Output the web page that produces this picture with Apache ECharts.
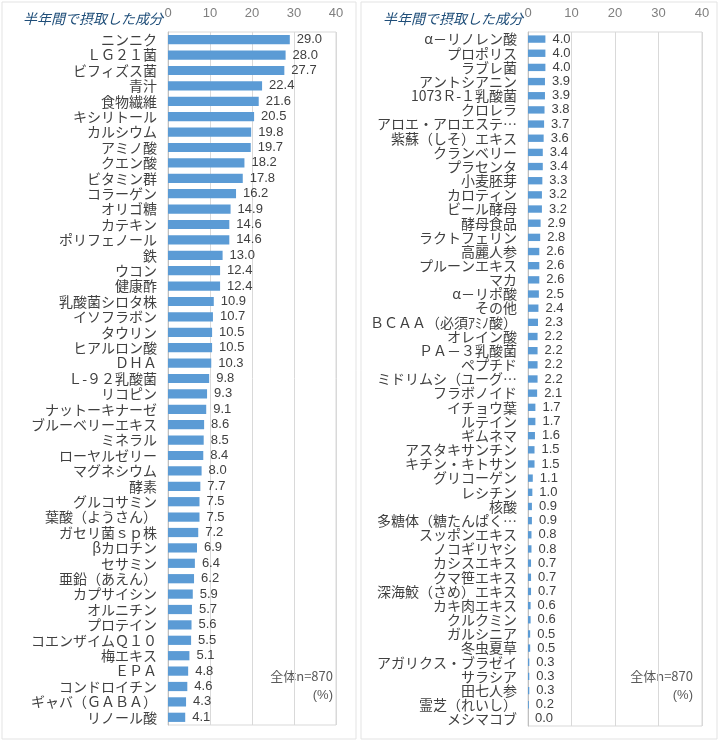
<!DOCTYPE html>
<html>
<head>
<meta charset="utf-8">
<script src="https://cdn.jsdelivr.net/npm/echarts@6/dist/echarts.min.js"></script>
<style>html,body{margin:0;padding:0;background:#fff;}#c{width:720px;height:742px;}</style>
</head>
<body>
<div id="c"></div>
<script>
const leftCategories = ['ニンニク','ＬＧ２１菌','ビフィズス菌','青汁','食物繊維','キシリトール','カルシウム','アミノ酸','クエン酸','ビタミン群','コラーゲン','オリゴ糖','カテキン','ポリフェノール','鉄','ウコン','健康酢','乳酸菌シロタ株','イソフラボン','タウリン','ヒアルロン酸','ＤＨＡ','Ｌ-９２乳酸菌','リコピン','ナットーキナーゼ','ブルーベリーエキス','ミネラル','ローヤルゼリー','マグネシウム','酵素','グルコサミン','葉酸（ようさん）','ガセリ菌ｓｐ株','βカロチン','セサミン','亜鉛（あえん）','カプサイシン','オルニチン','プロテイン','コエンザイムＱ１０','梅エキス','ＥＰＡ','コンドロイチン','ギャバ（ＧＡＢＡ）','リノール酸'];
const leftValues = [29.0,28.0,27.7,22.4,21.6,20.5,19.8,19.7,18.2,17.8,16.2,14.9,14.6,14.6,13.0,12.4,12.4,10.9,10.7,10.5,10.5,10.3,9.8,9.3,9.1,8.6,8.5,8.4,8.0,7.7,7.5,7.5,7.2,6.9,6.4,6.2,5.9,5.7,5.6,5.5,5.1,4.8,4.6,4.3,4.1];
const rightCategories = ['α－リノレン酸','プロポリス','ラブレ菌','アントシアニン','1073Ｒ-１乳酸菌','クロレラ','アロエ・アロエステ…','紫蘇（しそ）エキス','クランベリー','プラセンタ','小麦胚芽','カロティン','ビール酵母','酵母食品','ラクトフェリン','高麗人参','プルーンエキス','マカ','α－リポ酸','その他','ＢＣＡＡ（必須ｱﾐﾉ酸）','オレイン酸','ＰＡ－３乳酸菌','ペプチド','ミドリムシ（ユーグ…','フラボノイド','イチョウ葉','ルテイン','ギムネマ','アスタキサンチン','キチン・キトサン','グリコーゲン','レシチン','核酸','多糖体（糖たんぱく…','スッポンエキス','ノコギリヤシ','カシスエキス','クマ笹エキス','深海鮫（さめ）エキス','カキ肉エキス','クルクミン','ガルシニア','冬虫夏草','アガリクス・ブラゼイ','サラシア','田七人参','霊芝（れいし）','メシマコブ'];
const rightValues = [4.0,4.0,4.0,3.9,3.9,3.8,3.7,3.6,3.4,3.4,3.3,3.2,3.2,2.9,2.8,2.6,2.6,2.6,2.5,2.4,2.3,2.2,2.2,2.2,2.2,2.1,1.7,1.7,1.6,1.5,1.5,1.1,1.0,0.9,0.9,0.8,0.8,0.7,0.7,0.7,0.6,0.6,0.5,0.5,0.3,0.3,0.3,0.2,0.0];
const xTicks = [0,10,20,30,40];
const titleText = '半年間で摂取した成分';
const noteText = '全体n=870';
const unitText = '(%)';

const chart = echarts.init(document.getElementById('c'));
const cjk = '"Noto Sans CJK JP", "Noto Sans", sans-serif';
const lat = '"Liberation Sans", Arial, sans-serif';

function xAxisOf(i){
  return {
    gridIndex:i, type:'value', position:'top', min:xTicks[0], max:xTicks[xTicks.length-1], interval:10,
    axisLine:{show:false}, axisTick:{show:false},
    axisLabel:{color:'#7f7f7f', fontSize:13, fontFamily:lat, margin:12},
    splitLine:{show:true, lineStyle:{color:'#d9d9d9', width:1}}
  };
}
function yAxisOf(i, cats){
  return {
    gridIndex:i, type:'category', data:cats, inverse:true,
    axisLine:{show:true, lineStyle:{color:'#bfbfbf'}}, axisTick:{show:false},
    axisLabel:{color:'#404040', fontSize:14, fontFamily:cjk, margin:11, interval:0}
  };
}
function seriesOf(i, vals, gap){
  return {
    type:'bar', xAxisIndex:i, yAxisIndex:i, data:vals, barCategoryGap:gap,
    itemStyle:{color:'#5B9BD5'},
    label:{show:true, position:'right', distance:7, color:'#404040', fontSize:13, fontFamily:lat,
      formatter:p=>Number(p.value).toFixed(1)},
    silent:true, animation:false
  };
}

chart.setOption({
  animation:false,
  backgroundColor:'#fff',
  title:[
    {text:titleText, left:18, top:7, textStyle:{fontSize:14, fontStyle:'italic', fontWeight:'normal', color:'#1F4E79', fontFamily:cjk}},
    {text:titleText, left:378, top:7, textStyle:{fontSize:14, fontStyle:'italic', fontWeight:'normal', color:'#1F4E79', fontFamily:cjk}}
  ],
  grid:[
    {left:168, top:32, width:168, height:693, show:true, borderColor:'#d9d9d9', borderWidth:1, backgroundColor:'transparent'},
    {left:528, top:32, width:174, height:694, show:true, borderColor:'#d9d9d9', borderWidth:1, backgroundColor:'transparent'}
  ],
  xAxis:[xAxisOf(0), xAxisOf(1)],
  yAxis:[yAxisOf(0, leftCategories), yAxisOf(1, rightCategories)],
  series:[seriesOf(0, leftValues, '40%'), seriesOf(1, rightValues, '48%')],
  graphic:[
    {type:'rect', shape:{x:2, y:2, width:354, height:737}, style:{fill:'none', stroke:'#e3e3e3', lineWidth:1}, silent:true, z:-1},
    {type:'rect', shape:{x:361, y:2, width:356, height:737}, style:{fill:'none', stroke:'#e3e3e3', lineWidth:1}, silent:true, z:-1},
    {type:'text', right:720-333, top:670, style:{text:noteText, fill:'#595959', fontSize:13, fontFamily:cjk, textAlign:'right'}},
    {type:'text', right:720-333, top:689, style:{text:unitText, fill:'#595959', fontSize:13, fontFamily:lat, textAlign:'right'}},
    {type:'text', right:720-693, top:670, style:{text:noteText, fill:'#595959', fontSize:13, fontFamily:cjk, textAlign:'right'}},
    {type:'text', right:720-693, top:689, style:{text:unitText, fill:'#595959', fontSize:13, fontFamily:lat, textAlign:'right'}}
  ]
});
</script>
</body>
</html>
